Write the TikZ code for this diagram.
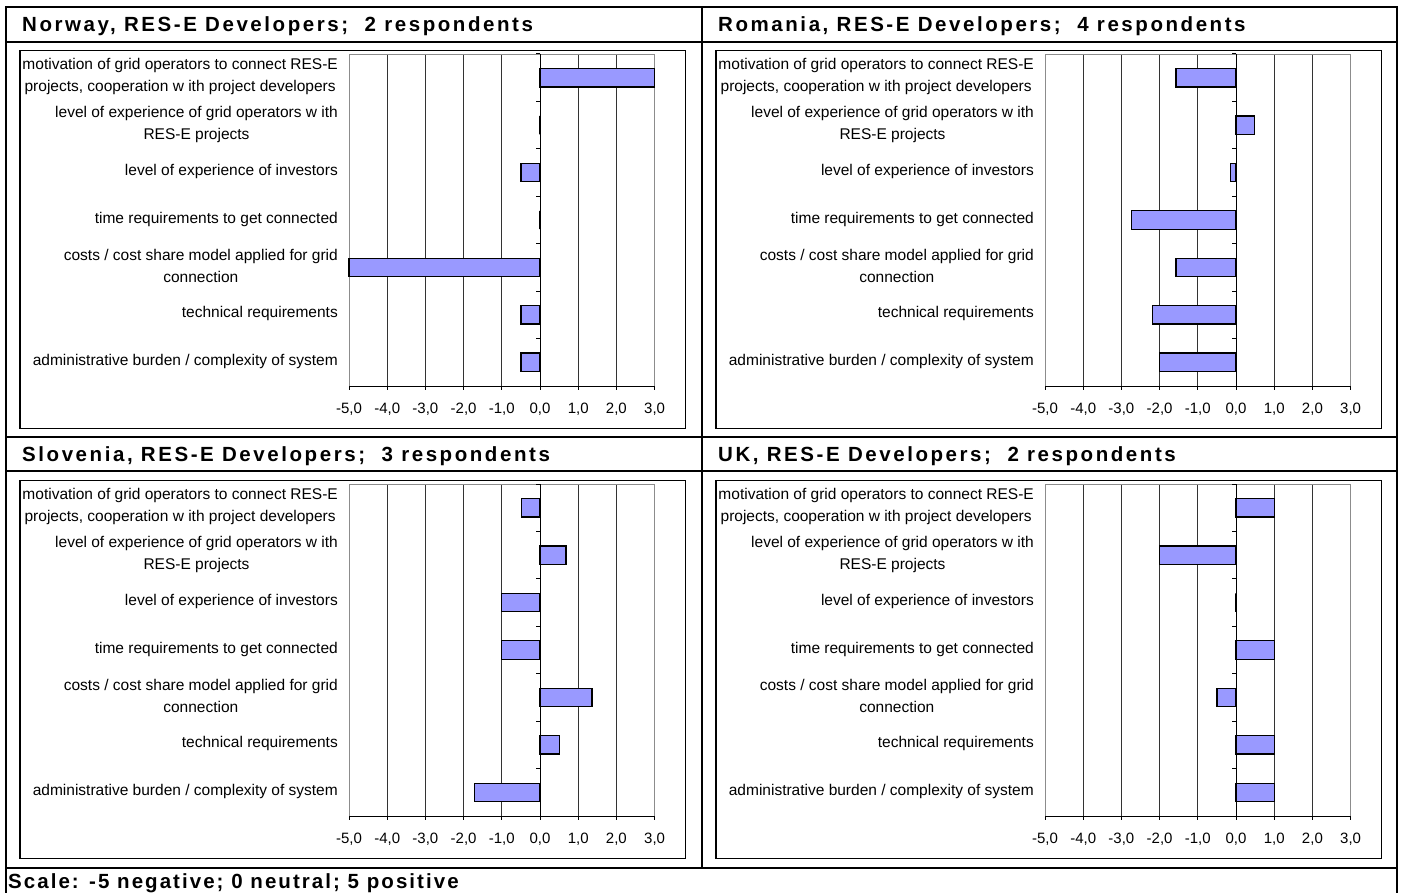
\documentclass[tikz,border=0pt]{standalone}
\usepackage{fontspec}
\setmainfont{Liberation Sans}
\newfontfamily\titlefont[LetterSpace=12.5]{Liberation Sans}
\newfontfamily\scalefont[LetterSpace=10]{Liberation Sans}
\usepackage{tikz}
\usepackage{xcolor}
\definecolor{barblue}{HTML}{9999FF}
\tikzset{frame/.style={line width=2pt},
  chartbox/.style={draw=black,line width=1.1pt},
  plotbox/.style={draw=black!45,line width=.9pt},
  gridline/.style={black!80,line width=1pt},
  bar/.style={draw=black,line width=1.2pt,fill=barblue},
  catlabel/.style={inner sep=0pt,align=center,font=\fontsize{15.5}{22}\selectfont},
  ticklabel/.style={inner sep=0pt,font=\fontsize{15}{18}\selectfont},
  paneltitle/.style={inner sep=0pt,font=\titlefont\bfseries\fontsize{20.5}{22}\selectfont}}
\newcommand\catlist{{motivation of grid operators to connect RES-E\\projects, cooperation w ith project developers},
  {level of experience of grid operators w ith\\RES-E projects},{level of experience of investors},
  {time requirements to get connected},{costs / cost share model applied for grid\\connection},
  {technical requirements},{administrative burden / complexity of system}}
\begin{document}
\begin{tikzpicture}[x=1pt,y=-1pt]
  \useasboundingbox (0,0) rectangle (1402,893);
  \draw[frame] (5.5,893) -- (5.5,7.3) -- (1397.3,7.3) -- (1397.3,893);
  \draw[frame] (5.5,42.5) -- (1397.3,42.5) (5.5,436.7) -- (1397.3,436.7)
    (5.5,470.7) -- (1397.3,470.7) (5.5,867.7) -- (1397.3,867.7) (702,7.3) -- (702,867.7);
  \foreach \n/\px/\py/\ttl/\vals in {
      nor/540/54/{Norway, RES-E Developers;~ 2 respondents}/{3,0,-0.5,0,-5,-0.5,-0.5},
      rom/1236/54/{Romania, RES-E Developers;~ 4 respondents}/{-1.57,0.48,-0.15,-2.74,-1.57,-2.18,-2},
      slo/540/484/{Slovenia, RES-E Developers;~ 3 respondents}/{-0.49,0.68,-1,-1,1.36,0.5,-1.72},
      uk/1236/484/{UK, RES-E Developers;~ 2 respondents}/{1,-2,0,1,-0.5,1,1}}{
    \node[paneltitle,anchor=base west] (title-\n) at (\px-518,\py-22.3) {\ttl};
    \draw[chartbox] (\px-520,\py-3.5) rectangle (\px+145.5,\py+374.5);
    \foreach \g in {-4,...,2}
      \draw[gridline] ({\px+\g*38.2},\py) -- ({\px+\g*38.2},\py+332);
    \draw[plotbox] (\px-191,\py) rectangle (\px+114.6,\py+332);
    \draw[line width=1pt] (\px-191,\py+332) -- (\px+114.6,\py+332) (\px,\py) -- (\px,\py+332);
    \foreach \g in {-5,...,3}{
      \draw[line width=1pt] ({\px+\g*38.2},\py+332) -- ++(0,3.5);
      \node[ticklabel,anchor=base] (tick-\n\g) at ({\px+\g*38.2},\py+359.5) {\g,0};}
    \foreach \k in {0,...,7}
      \draw[line width=1pt] (\px,{\py+\k*47.43}) -- ++(-4.5,0);
    \foreach \v [count=\i] in \vals
      \draw[bar] (\px,{\py+(\i-.5)*47.43-9.2}) rectangle ({\px+\v*38.2},{\py+(\i-.5)*47.43+9.2});
    \foreach \lab [count=\i] in \catlist
      \node[catlabel,anchor=east] (lab-\n\i) at (\px-202,{\py+(\i-.5)*47.43-1}) {\lab};
  }
  \node[paneltitle,font=\scalefont\bfseries\fontsize{20.5}{22}\selectfont,anchor=base west] (scale) at (8,888.5)
    {Scale: -5 negative; 0 neutral; 5 positive};
\end{tikzpicture}
\end{document}
